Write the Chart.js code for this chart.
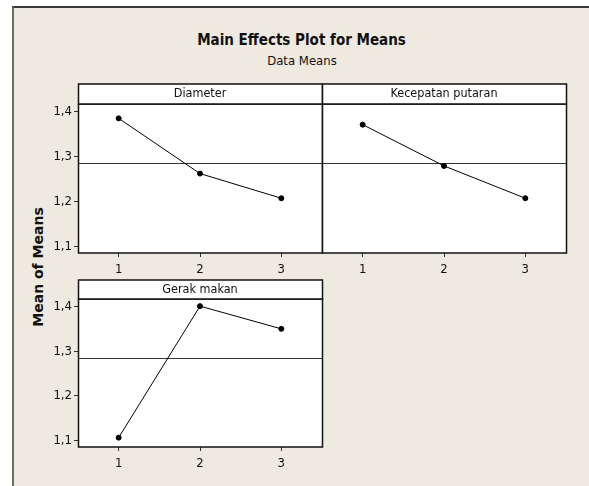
<!DOCTYPE html>
<html>
<head>
<meta charset="utf-8">
<script src="https://cdn.jsdelivr.net/npm/chart.js@4.4.1/dist/chart.umd.min.js"></script>
<style>
  html, body { margin: 0; padding: 0; background: #fff; }
  #page { position: relative; width: 589px; height: 486px; overflow: hidden; background: #fff; }
  #frame {
    position: absolute; left: 12px; top: 6px; right: -4px; bottom: -4px;
    background: #eeeae0;
    border-top: 2px solid #3a3a3a;
    border-left: 2px solid #6e6b66;
  }
  canvas { position: absolute; left: 0; top: 0; }
  .txt { position: absolute; color: #111; white-space: nowrap; font-family: "DejaVu Sans Condensed", "DejaVu Sans", sans-serif; }
  #title { left: 0; width: 603px; top: 31px; text-align: center; font-size: 15px; font-weight: bold; }
  #subtitle { left: 0; width: 604px; top: 53px; text-align: center; font-size: 13px; }
  #ytitle {
    left: 38px; top: 267px; font-family: "DejaVu Sans", sans-serif; font-size: 14px; font-weight: bold;
    transform: translate(-50%, -50%) rotate(-90deg);
  }
</style>
</head>
<body>
<div id="page">
  <div id="frame"></div>
  <div class="txt" id="title">Main Effects Plot for Means</div>
  <div class="txt" id="subtitle">Data Means</div>
  <div class="txt" id="ytitle">Mean of Means</div>
  <canvas id="p1" width="589" height="486"></canvas>
  <canvas id="p2" width="589" height="486"></canvas>
  <canvas id="p3" width="589" height="486"></canvas>
</div>
<script>
// Data
const levels = [1, 2, 3];
const diameterMeans = [1.385, 1.262, 1.207];
const kecepatanMeans = [1.371, 1.279, 1.207];
const gerakMeans = [1.106, 1.401, 1.350];
const grandMean = 1.285;
const yTicks = [1.1, 1.2, 1.3, 1.4];
const panelTitles = ['Diameter', 'Kecepatan putaran', 'Gerak makan'];

const W = 589, H = 486;
const tickFont = { family: '"DejaVu Sans Condensed", "DejaVu Sans", sans-serif', size: 13 };

// header strip, grand mean line and frame around each panel
const panelDecor = {
  id: 'panelDecor',
  beforeDatasetsDraw(chart, args, opts) {
    const { ctx, chartArea: a, scales } = chart;
    const y = Math.round(scales.y.getPixelForValue(grandMean)) + 0.5;
    ctx.save();
    ctx.strokeStyle = '#333';
    ctx.lineWidth = 1;
    ctx.beginPath();
    ctx.moveTo(a.left, y);
    ctx.lineTo(a.right, y);
    ctx.stroke();
    ctx.restore();
  },
  afterDraw(chart, args, opts) {
    const { ctx, chartArea: a } = chart;
    ctx.save();
    ctx.strokeStyle = '#111';
    ctx.lineWidth = 1.5;
    ctx.strokeRect(a.left + 0.5, a.top, a.right - a.left, a.bottom - a.top);
    ctx.fillStyle = '#fff';
    ctx.fillRect(a.left, a.top - opts.header, a.right - a.left, opts.header);
    ctx.strokeRect(a.left + 0.5, a.top - opts.header, a.right - a.left, opts.header);
    ctx.fillStyle = '#111';
    ctx.font = '12.5px "DejaVu Sans Condensed", "DejaVu Sans", sans-serif';
    ctx.textAlign = 'center';
    ctx.textBaseline = 'middle';
    ctx.fillText(opts.title, (a.left + a.right) / 2, a.top - opts.header / 2);
    ctx.restore();
  }
};

const whiteArea = {
  id: 'whiteArea',
  beforeDraw(chart) {
    const { ctx, chartArea: a } = chart;
    ctx.save();
    ctx.fillStyle = '#fff';
    ctx.fillRect(a.left, a.top, a.right - a.left, a.bottom - a.top);
    ctx.restore();
  }
};

function makePanel(id, values, title, box, showY) {
  const yWidth = showY ? 30 : 0;
  const xHeight = 24;
  return new Chart(document.getElementById(id), {
    type: 'line',
    data: {
      datasets: [{
        data: levels.map((l, i) => ({ x: l, y: values[i] })),
        borderColor: '#000',
        backgroundColor: '#000',
        borderWidth: 1,
        pointRadius: 2.5,
        pointHoverRadius: 2.5,
        tension: 0
      }]
    },
    options: {
      responsive: false,
      animation: false,
      devicePixelRatio: 1,
      layout: {
        padding: {
          left: box.left - yWidth,
          right: W - box.right,
          top: box.top,
          bottom: H - box.bottom - xHeight
        }
      },
      plugins: {
        legend: { display: false },
        tooltip: { enabled: false },
        panelDecor: { title: title, header: box.header }
      },
      scales: {
        x: {
          type: 'linear',
          min: 0.5,
          max: 3.5,
          afterBuildTicks: axis => { axis.ticks = levels.map(v => ({ value: v })); },
          afterFit: s => { s.height = xHeight; },
          border: { display: false },
          grid: { drawOnChartArea: false, drawTicks: true, tickLength: 4, color: '#333' },
          ticks: { color: '#111', font: tickFont, padding: 5, maxRotation: 0 }
        },
        y: {
          display: showY,
          min: 1.085,
          max: 1.417,
          afterBuildTicks: axis => { axis.ticks = yTicks.map(v => ({ value: v })); },
          afterFit: s => { s.width = yWidth; },
          border: { display: false },
          grid: { drawOnChartArea: false, drawTicks: true, tickLength: 4, color: '#333' },
          ticks: {
            color: '#111', font: tickFont, padding: 2,
            callback: v => v.toFixed(1).replace('.', ',')
          }
        }
      }
    },
    plugins: [whiteArea, panelDecor]
  });
}

makePanel('p1', diameterMeans, panelTitles[0], { left: 78, right: 322, top: 104, bottom: 253, header: 20 }, true);
makePanel('p2', kecepatanMeans, panelTitles[1], { left: 322, right: 566, top: 104, bottom: 253, header: 20 }, false);
makePanel('p3', gerakMeans, panelTitles[2], { left: 78, right: 322, top: 299, bottom: 447, header: 19 }, true);
</script>
</body>
</html>
